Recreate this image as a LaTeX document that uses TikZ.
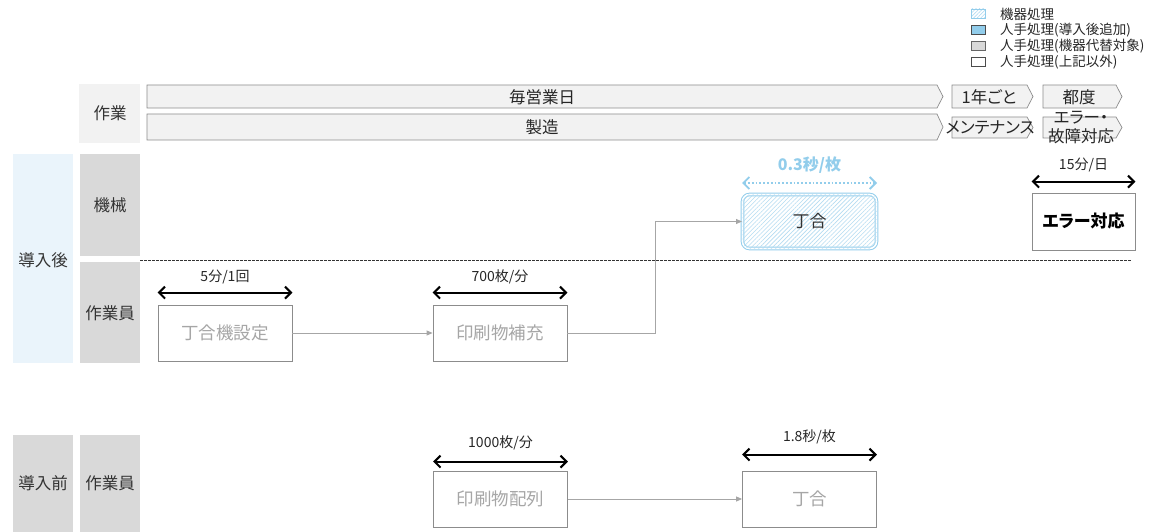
\documentclass[tikz,border=0pt]{standalone}
\usepackage{fontspec}
\setmainfont{Noto Sans CJK JP}
\newfontfamily\jpp[RawFeature=+palt]{Noto Sans CJK JP}
\usetikzlibrary{arrows.meta,patterns.meta}
\definecolor{grayfill}{HTML}{D9D9D9}
\definecolor{barfill}{HTML}{F2F2F2}
\definecolor{barline}{HTML}{8C8C8C}
\definecolor{boxline}{HTML}{8C8C8C}
\definecolor{boxtext}{HTML}{A6A6A6}
\definecolor{lb}{HTML}{92CDEB}
\definecolor{lbhatch}{HTML}{B4DCF2}
\definecolor{leftblue}{HTML}{EAF4FB}
\definecolor{conn}{HTML}{A6A6A6}
\tikzset{
  x=1pt, y=-1pt,
  lab/.style={font=\fontsize{16.5}{18}\selectfont, text=black!80, inner sep=0pt},
  small/.style={font=\jpp\fontsize{14}{16}\selectfont, text=black!85, inner sep=0pt},
  leg/.style={font=\jpp\fontsize{13.5}{15}\selectfont, text=black!85, anchor=west, inner sep=0pt},
  procbox/.style={draw=boxline, line width=0.8pt, fill=white, minimum width=134pt, minimum height=56pt, inner sep=0pt, text=boxtext, font=\fontsize{17.5}{19}\selectfont},
  barb/.tip={Straight Barb[length=6pt,width=12pt,line width=2pt]},
  dim/.style={barb-barb, line width=2pt, black},
  connector/.style={draw=conn, line width=0.8pt, -{Triangle[length=6pt,width=5pt]}},
  bar/.style={draw=barline, fill=barfill, line width=0.7pt},
  bartext/.style={font=\jpp\fontsize{16.5}{18}\selectfont, text=black!85, inner sep=0pt},
}
\begin{document}
\begin{tikzpicture}
\useasboundingbox (0,0) rectangle (1171,532);
% legend
\draw[draw=lb, pattern={Lines[angle=45,distance=2.5pt,line width=0.6pt]}, pattern color=lbhatch] (971,9) rectangle (985,18);
\draw[draw=black!70, fill=lb] (971,25) rectangle (985,34);
\draw[draw=black!60, fill=grayfill] (971,41) rectangle (985,50);
\draw[draw=black!70, fill=white] (971,57) rectangle (985,66);
\node[leg] (l1) at (1000,14) {機器処理};
\node[leg] (l2) at (1000,30) {人手処理(導入後追加)};
\node[leg] (l3) at (1000,46) {人手処理(機器代替対象)};
\node[leg] (l4) at (1000,62) {人手処理(上記以外)};
% top work header
\fill[barfill] (79,84) rectangle (140,143);
\node[lab] (sagyo) at (110,113) {作業};
% bars row 1
\draw[bar] (147,85) -- (937,85) -- (943,96.5) -- (937,108) -- (147,108) -- cycle;
\node[bartext] (b1) at (542,97) {毎営業日};
\draw[bar] (952,85) -- (1027,85) -- (1033,96.5) -- (1027,108) -- (952,108) -- cycle;
\node[bartext] (b2) at (989,97) {1年ごと};
\draw[bar] (1043,85) -- (1116,85) -- (1122,96.5) -- (1116,108) -- (1043,108) -- cycle;
\node[bartext] (b3) at (1079,97) {都度};
% bars row 2
\draw[bar] (147,114) -- (937,114) -- (943,127) -- (937,140) -- (147,140) -- cycle;
\node[bartext] (c1) at (542,127) {製造};
\draw[bar] (952,117) -- (1027,117) -- (1033,127.5) -- (1027,138) -- (952,138) -- cycle;
\node[bartext] (c2) at (990,128) {メンテナンス};
\draw[bar] (1043,117) -- (1116,117) -- (1122,127.5) -- (1116,138) -- (1043,138) -- cycle;
\node[bartext, align=center, font=\jpp\fontsize{16.5}{19}\selectfont] (c3) at (1081,128) {エラー・\\故障対応};
% left column
\fill[leftblue] (13,154) rectangle (73,363);
\node[lab] (after) at (43,260) {導入後};
\fill[grayfill] (80,154) rectangle (140,256);
\node[lab] (kikai) at (110,205) {機械};
\fill[grayfill] (80,262) rectangle (140,363);
\node[lab] (worker1) at (110,313) {作業員};
\fill[grayfill] (13,435) rectangle (73,532);
\node[lab] (before) at (43,483) {導入前};
\fill[grayfill] (80,435) rectangle (140,532);
\node[lab] (worker2) at (110,483) {作業員};
% dashed separator
\coordinate (sepL) at (140,260);
\coordinate (sepR) at (1131,260);
\draw[dashed, dash pattern=on 2.5pt off 1.5pt, line width=0.7pt, black!80] (sepL) -- (sepR);
% machine node
\node[draw=lb, double=white, double distance=1.6pt, line width=1pt, rounded corners=7pt, minimum width=134pt, minimum height=54pt, inner sep=0pt, fill=white, postaction={pattern={Lines[angle=45,distance=3pt,line width=0.6pt]}, pattern color=lbhatch}, font=\fontsize{17}{19}\selectfont, text=black!80] (m1) at (809.5,221.5) {丁合};
\draw[lb, dotted, line width=1.8pt, {Straight Barb[length=6pt,width=12pt,line width=1.8pt]}-{Straight Barb[length=6pt,width=12pt,line width=1.8pt]}] ([yshift=11pt]m1.north west) -- ([yshift=11pt]m1.north east);
\node[font=\jpp\bfseries\fontsize{16}{18}\selectfont, text=lb, inner sep=0pt] (m1lab) at (809.5,165) {0.3秒/枚};
% error node
\node[draw=boxline, line width=0.8pt, minimum width=103pt, minimum height=57pt, inner sep=0pt, font=\jpp\bfseries\fontsize{17}{19}\selectfont] (err) at (1083.5,221.5) {エラー対応};
\draw[dim] ([yshift=11pt]err.north west) -- ([yshift=11pt]err.north east);
\node[small] (errlab) at (1083.5,165) {15分/日};
% after: worker row
\node[procbox] (s1) at (225,333) {丁合機設定};
\draw[dim] ([yshift=12pt]s1.north west) -- ([yshift=12pt]s1.north east);
\node[small] (s1lab) at (225,277) {5分/1回};
\node[procbox] (s2) at (500,333) {印刷物補充};
\draw[dim] ([yshift=12pt]s2.north west) -- ([yshift=12pt]s2.north east);
\node[small] (s2lab) at (500,277) {700枚/分};
\draw[connector] (s1.east) -- (s2.west);
\coordinate (bend) at (655,333);
\draw[connector] (s2.east) -- (bend) |- (m1.west);
% before row
\node[procbox] (p1) at (500.5,499) {印刷物配列};
\draw[dim] ([yshift=9pt]p1.north west) -- ([yshift=9pt]p1.north east);
\node[small] (p1lab) at (500.5,443) {1000枚/分};
\node[procbox] (p2) at (809.5,499) {丁合};
\draw[dim] ([yshift=16pt]p2.north west) -- ([yshift=16pt]p2.north east);
\node[small] (p2lab) at (809.5,437) {1.8秒/枚};
\draw[connector] (p1.east) -- (p2.west);
\end{tikzpicture}
\end{document}
